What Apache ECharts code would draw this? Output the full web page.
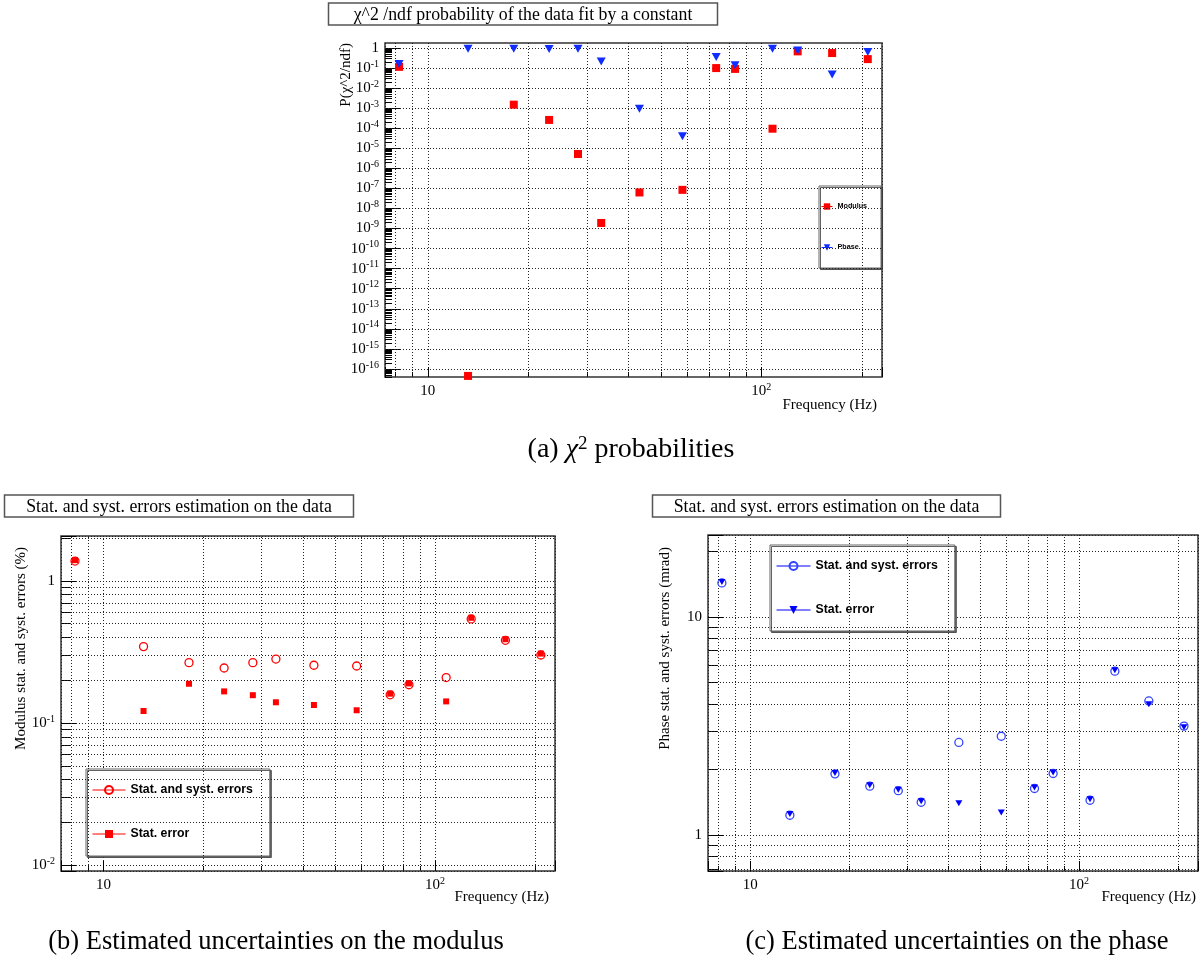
<!DOCTYPE html>
<html>
<head>
<meta charset="utf-8">
<script src="https://cdn.jsdelivr.net/npm/echarts@6/dist/echarts.min.js"></script>
<style>
  html, body { margin: 0; padding: 0; background: #fff; }
  #main { width: 1201px; height: 961px; }
</style>
</head>
<body>
<div id="main"></div>
<script>
// frequencies (Hz), shared by the three panels
const freq = [8.2, 13.2, 18.1, 23.1, 28.2, 33.1, 43.1, 58, 73.2, 83.4, 108, 128.5, 163, 208.5];

// (a) chi2/ndf probabilities
const chi2Modulus = [0.115, 4.5e-17, 1.5e-3, 2.6e-4, 5.2e-6, 1.9e-9, 6.3e-8, 8.5e-8, 0.10, 0.091, 9.5e-5, 0.68, 0.56, 0.28];
const chi2Phase = [0.16, 0.93, 0.93, 0.9, 0.93, 0.21, 9.5e-4, 4e-5, 0.36, 0.14, 0.92, 0.76, 0.048, 0.63];

// (b) modulus errors (%)
const modTotal = [1.38, 0.345, 0.266, 0.244, 0.266, 0.282, 0.255, 0.252, 0.158, 0.186, 0.209, 0.54, 0.382, 0.301];
const modStat = [1.40, 0.1215, 0.189, 0.167, 0.157, 0.140, 0.134, 0.123, 0.161, 0.19, 0.142, 0.55, 0.389, 0.308];

// (c) phase errors (mrad)
const phaseTotal = [14.3, 1.235, 1.91, 1.677, 1.60, 1.416, 2.66, 2.84, 1.637, 1.918, 1.446, 5.64, 4.12, 3.16];
const phaseStat = [14.45, 1.25, 1.93, 1.695, 1.615, 1.43, 1.40, 1.27, 1.655, 1.94, 1.46, 5.70, 3.98, 3.12];

// tick values
const chiTicks = [1, 1e-1, 1e-2, 1e-3, 1e-4, 1e-5, 1e-6, 1e-7, 1e-8, 1e-9, 1e-10, 1e-11, 1e-12, 1e-13, 1e-14, 1e-15, 1e-16];
const minorX = [8, 9, 20, 30, 40, 50, 60, 70, 80, 90, 200];
const minorYb = [0.02, 0.03, 0.04, 0.05, 0.06, 0.07, 0.08, 0.09, 0.2, 0.3, 0.4, 0.5, 0.6, 0.7, 0.8, 0.9, 2];
const minorYc = [0.7, 0.8, 0.9, 2, 3, 4, 5, 6, 7, 8, 9, 20];
const minorYa = [];
chiTicks.forEach(d => { for (let k = 2; k <= 9; k++) minorYa.push(k * d / 10); });

const X_MIN = 7.44, X_MAX = 230;
const YA_MIN = Math.pow(10, -16.4), YA_MAX = Math.pow(10, 0.25);
const YB_MIN = 0.0091, YB_MAX = 2.07;
const YC_MIN = 0.686, YC_MAX = 23.7;

const SERIF = "'Liberation Serif', 'Times New Roman', serif";
const SANS = "'Liberation Sans', Arial, sans-serif";
const RED = '#ff0000', BLUE = '#0f2dff';

const gridStyle = { color: '#222', width: 1, type: [1, 2] };

const labelRich = {
  b: { fontFamily: SERIF, fontSize: 15, lineHeight: 18, color: '#000' },
  s: { fontFamily: SERIF, fontSize: 10, lineHeight: 10, verticalAlign: 'top', color: '#000' }
};

function powLabel(v) {
  const l = Math.log10(v);
  const k = Math.round(l);
  if (Math.abs(l - k) > 1e-6) return '';
  if (k === 0) return '{b|1}';
  if (k === 1) return '{b|10}';
  return '{b|10}{s|' + k + '}';
}

function xAxisCfg(g) {
  return {
    type: 'log', gridIndex: g, logBase: 10, min: X_MIN, max: X_MAX, position: 'bottom',
    axisLine: { show: false },
    axisTick: { show: true, inside: true, length: 10, lineStyle: { color: '#000' } },
    axisLabel: { formatter: powLabel, rich: labelRich, margin: 5, interval: 0, hideOverlap: false },
    splitLine: { show: true, lineStyle: gridStyle }
  };
}

function yAxisCfg(g, min, max, extra) {
  return Object.assign({
    type: 'log', gridIndex: g, logBase: 10, min: min, max: max, position: 'left',
    axisLine: { show: false },
    axisTick: { show: true, inside: true, length: 15, lineStyle: { color: '#000' } },
    axisLabel: { formatter: powLabel, rich: labelRich, margin: 6, interval: 0, hideOverlap: false },
    splitLine: { show: true, lineStyle: gridStyle }
  }, extra || {});
}

// axes that only carry the short ROOT minor ticks
function minorAxis(g, min, max, values, len, pos) {
  return {
    type: 'log', gridIndex: g, logBase: 10, min: min, max: max, position: pos,
    axisLine: { show: false },
    axisTick: { show: true, inside: true, length: len, customValues: values, lineStyle: { color: '#000' } },
    axisLabel: { show: false },
    splitLine: { show: false }
  };
}

function gridLines(xs, ys) {
  return {
    silent: true, symbol: 'none', animation: false, precision: 20,
    label: { show: false },
    emphasis: { disabled: true },
    lineStyle: gridStyle,
    data: xs.map(v => ({ xAxis: v })).concat(ys.map(v => ({ yAxis: v })))
  };
}

function pts(ys) {
  return freq.map((f, i) => [f, ys[i]]);
}

function markerSeries(name, g, ys, color, symbol, size, extra) {
  return Object.assign({
    name: name, type: 'line', xAxisIndex: g, yAxisIndex: g,
    data: pts(ys), symbol: symbol, symbolSize: size, showSymbol: true,
    lineStyle: { color: color, width: 1, opacity: 0 },
    itemStyle: { color: color },
    emphasis: { disabled: true },
    clip: false, animation: false, z: 5
  }, extra || {});
}

const legendNames = {
  chiMod: 'Modulus', chiPhase: 'Phase',
  modTotal: 'Stat. and syst. errors', modStat: 'Stat. error',
  phTotal: 'Stat. and syst. errors', phStat: 'Stat. error'
};

function legendCfg(names, left, top, itemWidth, itemHeight, gap, padding, fontSize) {
  return {
    data: names, orient: 'vertical', left: left, top: top,
    itemWidth: itemWidth, itemHeight: itemHeight, itemGap: gap, padding: padding,
    backgroundColor: '#fff', borderColor: '#666', borderWidth: 1,
    shadowColor: 'rgba(60,60,60,0.8)', shadowOffsetX: 1.5, shadowOffsetY: 1.5, shadowBlur: 0,
    selectedMode: false,
    lineStyle: { width: 1, opacity: 1 },
    formatter: n => legendNames[n],
    textStyle: { fontFamily: SANS, fontWeight: 'bold', fontSize: fontSize, color: '#000' }
  };
}

function boxTitle(x, y, w, h, text) {
  return [
    { type: 'rect', shape: { x: x, y: y, width: w, height: h },
      style: { fill: '#fff', stroke: '#555', lineWidth: 1.5 }, z: 10 },
    { type: 'text', x: x + w / 2, y: y + h / 2 + 1, z: 11,
      style: { text: text, align: 'center', verticalAlign: 'middle',
               font: '17.8px ' + SERIF, fill: '#000' } }
  ];
}

function textEl(x, y, text, size, align, rotate, rich) {
  return { type: 'text', x: x, y: y, rotation: rotate || 0, z: 11,
    style: { text: text, rich: rich, align: align, verticalAlign: 'middle',
             font: size + 'px ' + SERIF, fill: '#000' } };
}

function capRich(size) {
  return {
    t: { fontFamily: SERIF, fontSize: size, lineHeight: 30, color: '#000' },
    i: { fontFamily: SERIF, fontSize: size, lineHeight: 30, fontStyle: 'italic', color: '#000' },
    s: { fontFamily: SERIF, fontSize: Math.round(size * 0.68), lineHeight: 18, verticalAlign: 'top', color: '#000' }
  };
}

const chart = echarts.init(document.getElementById('main'), null, { renderer: 'canvas' });

const gridBase = { show: true, borderColor: '#333', borderWidth: 1.5, backgroundColor: 'transparent' };

const option = {
  backgroundColor: '#fff',
  animation: false,
  grid: [
    Object.assign({ left: 385, top: 43, width: 497, height: 334 }, gridBase),
    Object.assign({ left: 61, top: 536, width: 494, height: 335 }, gridBase),
    Object.assign({ left: 708, top: 535, width: 494, height: 336 }, gridBase)
  ],
  xAxis: [
    xAxisCfg(0), xAxisCfg(1), xAxisCfg(2),
    minorAxis(0, X_MIN, X_MAX, minorX, 5, 'bottom'),
    minorAxis(1, X_MIN, X_MAX, minorX, 5, 'bottom'),
    minorAxis(2, X_MIN, X_MAX, minorX, 5, 'bottom')
  ],
  yAxis: [
    yAxisCfg(0, YA_MIN, YA_MAX, {
      axisTick: { show: true, inside: true, length: 15, customValues: chiTicks, lineStyle: { color: '#000' } },
      axisLabel: { formatter: powLabel, rich: labelRich, margin: 6, customValues: chiTicks, hideOverlap: false },
      splitLine: { show: false }
    }),
    yAxisCfg(1, YB_MIN, YB_MAX),
    yAxisCfg(2, YC_MIN, YC_MAX),
    minorAxis(0, YA_MIN, YA_MAX, minorYa, 7, 'left'),
    minorAxis(1, YB_MIN, YB_MAX, minorYb, 9, 'left'),
    minorAxis(2, YC_MIN, YC_MAX, minorYc, 9, 'left')
  ],
  legend: [
    legendCfg(['chiMod', 'chiPhase'], 819, 186, 11, 8, 34, [17, 14, 17, 2], 7.2),
    legendCfg(['modTotal', 'modStat'], 86, 769, 33, 10, 32, [15, 17, 16, 6], 12.3),
    legendCfg(['phTotal', 'phStat'], 770, 545, 34, 10, 32, [15, 17, 15, 6], 12.3)
  ],
  series: [
    markerSeries('chiMod', 0, chi2Modulus, RED, 'rect', 8, { markLine: gridLines(minorX, chiTicks) }),
    markerSeries('chiPhase', 0, chi2Phase, BLUE, 'triangle', [9, 8], { symbolRotate: 180 }),

    markerSeries('modTotal', 1, modTotal, RED, 'circle', 8, {
      itemStyle: { color: 'rgba(255,255,255,0)', borderColor: RED, borderWidth: 1.3 },
      markLine: gridLines(minorX, minorYb)
    }),
    markerSeries('modStat', 1, modStat, RED, 'rect', 6),

    markerSeries('phTotal', 2, phaseTotal, BLUE, 'circle', 8, {
      itemStyle: { color: 'rgba(255,255,255,0)', borderColor: '#3344ff', borderWidth: 1.3 },
      lineStyle: { color: '#0000ff', width: 1, opacity: 0 },
      markLine: gridLines(minorX, minorYc)
    }),
    markerSeries('phStat', 2, phaseStat, '#0000ff', 'triangle', [7, 6], { symbolRotate: 180 })
  ],
  graphic: [].concat(
    boxTitle(328.5, 3, 389, 22, 'χ^2 /ndf probability of the data fit by a constant'),
    boxTitle(4.5, 495, 349, 22, 'Stat. and syst. errors estimation on the data'),
    boxTitle(652.5, 495, 348, 22, 'Stat. and syst. errors estimation on the data'),
    [
      textEl(877, 405, 'Frequency (Hz)', 15, 'right'),
      textEl(549, 897, 'Frequency (Hz)', 15, 'right'),
      textEl(1196, 897, 'Frequency (Hz)', 15, 'right'),
      textEl(346, 43, 'P(χ^2/ndf)', 15, 'right', Math.PI / 2),
      textEl(21, 547, 'Modulus stat. and syst. errors (%)', 15, 'right', Math.PI / 2),
      textEl(665, 547, 'Phase stat. and syst. errors (mrad)', 15, 'right', Math.PI / 2),
      textEl(631, 450, '{t|(a) }{i|χ}{s|2}{t| probabilities}', 28, 'center', 0, capRich(28)),
      textEl(276, 942, '{t|(b) Estimated uncertainties on the modulus}', 26.5, 'center', 0, capRich(26.5)),
      textEl(957, 942, '{t|(c) Estimated uncertainties on the phase}', 26.5, 'center', 0, capRich(26.5))
    ]
  )
};

chart.setOption(option);
</script>
</body>
</html>
